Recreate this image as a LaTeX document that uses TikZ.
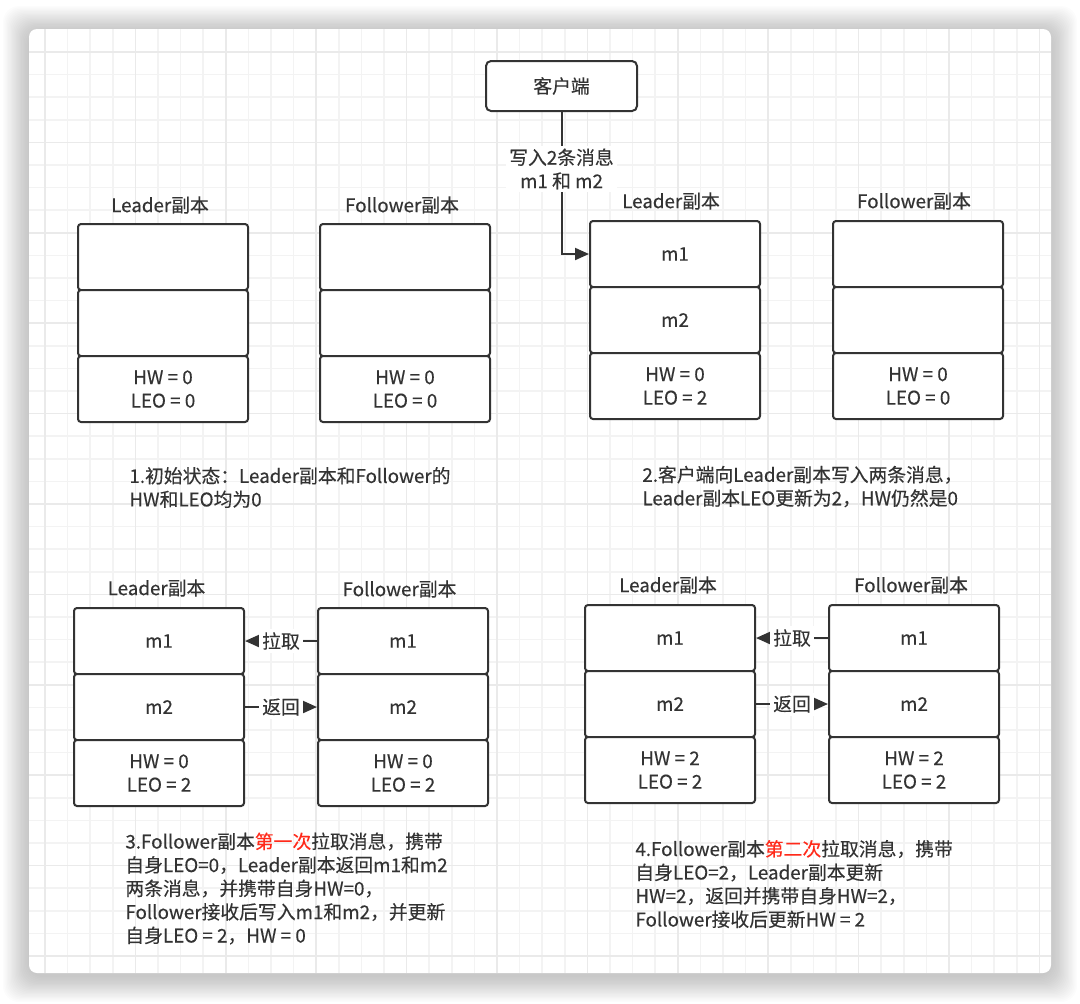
\documentclass[tikz,border=0pt]{standalone}
\usepackage{fontspec}
\setmainfont{Noto Sans CJK SC}[FakeBold=0.3]
\usetikzlibrary{arrows.meta}
\definecolor{ink}{HTML}{333333}
\definecolor{hot}{HTML}{FF2A1A}
\definecolor{gridminor}{HTML}{F3F3F3}
\definecolor{gridmajor}{HTML}{EAEAEA}
\tikzstyle{cell}=[draw=ink, line width=1pt, rounded corners=1.5pt, fill=white, text=ink,
                  minimum width=85pt, minimum height=33pt, inner sep=0, align=center]
\tikzstyle{client}=[cell, rounded corners=2.5pt, minimum width=75.5pt, minimum height=25pt]
\tikzstyle{title}=[text=ink, inner sep=0]
\tikzstyle{caption}=[text=ink, inner sep=0, anchor=west, align=left]
\tikzstyle{tag}=[fill=white, text=ink, inner sep=1.5pt, align=center]
\tikzstyle{flow}=[draw=ink, line width=1pt, -{Triangle[length=7pt, width=6pt]}]
% one replica: name, centre x, top y, three cells
\newcommand{\replica}[6]{
  \node[cell] (#1a) at (#2, #3+33) {#4};
  \node[cell] (#1b) at (#2, #3+99) {#5};
  \node[cell] (#1c) at (#2, #3+165) {#6};
}
\begin{document}
\begin{tikzpicture}[x=0.5pt, y=-0.5pt, font=\fontsize{9.4pt}{11.75pt}\selectfont]
  \useasboundingbox (0,0) rectangle (1080,1003);
  % sheet with shadow and grid
  \foreach \s in {1,...,20}
    \fill[black, opacity=0.011, rounded corners=8pt] (29-1.3*\s, 32-1.3*\s) rectangle (1051+1.3*\s, 976+1.3*\s);
  \fill[white, rounded corners=4pt] (29,29) rectangle (1051,973);
  \begin{scope}
    \clip[rounded corners=4pt] (29,29) rectangle (1051,973);
    \foreach \k in {0,...,44}
      \draw[gridminor, line width=0.8pt] (45+22.6*\k, 29) -- (45+22.6*\k, 973);
    \foreach \k in {0,...,40}
      \draw[gridminor, line width=0.8pt] (29, 52+22.6*\k) -- (1051, 52+22.6*\k);
    \foreach \k in {0,4,...,44}
      \draw[gridmajor, line width=0.8pt] (45+22.6*\k, 29) -- (45+22.6*\k, 973);
    \foreach \k in {0,4,...,40}
      \draw[gridmajor, line width=0.8pt] (29, 52+22.6*\k) -- (1051, 52+22.6*\k);
  \end{scope}

  % 1. initial state
  \node[title] (LAt) at (160, 205) {Leader副本};
  \node[title] (FAt) at (402, 205) {Follower副本};
  \replica{LA}{163}{224}{}{}{HW = 0\\LEO = 0}
  \replica{FA}{405}{224}{}{}{HW = 0\\LEO = 0}
  \node[caption] (capA) at (129, 487.5) {1.初始状态：Leader副本和Follower的\\HW和LEO均为0};

  % 2. client writes
  \node[client] (client) at (561.5, 86) {客户端};
  \node[title] (LBt) at (671, 201) {Leader副本};
  \node[title] (FBt) at (914, 201) {Follower副本};
  \replica{LB}{675}{221}{m1}{m2}{HW = 0\\LEO = 2}
  \replica{FB}{918}{221}{}{}{HW = 0\\LEO = 0}
  \draw[flow] (client.south) |- (LBa.west);
  \node[tag] (write) at (561.5, 169) {写入2条消息\\m1 和 m2};
  \node[caption] (capB) at (642, 486.5) {2.客户端向Leader副本写入两条消息，\\Leader副本LEO更新为2，HW仍然是0};

  % 3. first fetch
  \node[title] (LCt) at (156.5, 588) {Leader副本};
  \node[title] (FCt) at (399.5, 589) {Follower副本};
  \replica{LC}{159}{608}{m1}{m2}{HW = 0\\LEO = 2}
  \replica{FC}{403}{608}{m1}{m2}{HW = 0\\LEO = 2}
  \draw[flow] (FCa.west) -- node[tag] {拉取} (LCa.east);
  \draw[flow] (LCb.east) -- node[tag] {返回} (FCb.west);
  \node[caption] (capC) at (125, 888.5) {3.Follower副本\textcolor{hot}{第一次}拉取消息，携带\\自身LEO=0，Leader副本返回m1和m2\\两条消息，并携带自身HW=0，\\Follower接收后写入m1和m2，并更新\\自身LEO = 2，HW = 0};

  % 4. second fetch
  \node[title] (LDt) at (668, 585) {Leader副本};
  \node[title] (FDt) at (911, 585) {Follower副本};
  \replica{LD}{670}{605}{m1}{m2}{HW = 2\\LEO = 2}
  \replica{FD}{914}{605}{m1}{m2}{HW = 2\\LEO = 2}
  \draw[flow] (FDa.west) -- node[tag] {拉取} (LDa.east);
  \draw[flow] (LDb.east) -- node[tag] {返回} (FDb.west);
  \node[caption] (capD) at (635, 884) {4.Follower副本\textcolor{hot}{第二次}拉取消息，携带\\自身LEO=2，Leader副本更新\\HW=2，返回并携带自身HW=2，\\Follower接收后更新HW = 2};
\end{tikzpicture}
\end{document}
